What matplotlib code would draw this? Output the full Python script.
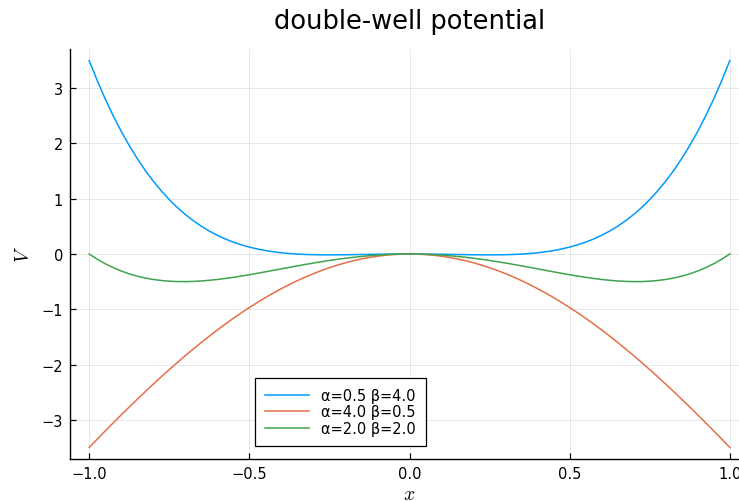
import matplotlib
matplotlib.use("Agg")
import matplotlib.pyplot as plt

x = [-1.0, -0.975, -0.95, -0.925, -0.9, -0.875, -0.85, -0.825, -0.8, -0.775,
     -0.75, -0.725, -0.7, -0.675, -0.65, -0.625, -0.6, -0.575, -0.55, -0.525,
     -0.5, -0.475, -0.45, -0.425, -0.4, -0.375, -0.35, -0.325, -0.3, -0.275,
     -0.25, -0.225, -0.2, -0.175, -0.15, -0.125, -0.1, -0.075, -0.05, -0.025,
     0.0,
     0.025, 0.05, 0.075, 0.1, 0.125, 0.15, 0.175, 0.2, 0.225, 0.25,
     0.275, 0.3, 0.325, 0.35, 0.375, 0.4, 0.425, 0.45, 0.475, 0.5,
     0.525, 0.55, 0.575, 0.6, 0.625, 0.65, 0.675, 0.7, 0.725, 0.75,
     0.775, 0.8, 0.825, 0.85, 0.875, 0.9, 0.925, 0.95, 0.975, 1.0]

v_a05_b40 = [3.5, 3.1394, 2.8068, 2.5006, 2.2194, 1.9619, 1.7268, 1.5127, 1.3184, 1.1427,
             0.9844, 0.8423, 0.7154, 0.6026, 0.5028, 0.4150, 0.3384, 0.2719, 0.2148, 0.1661,
             0.125, 0.0908, 0.0628, 0.0402, 0.0224, 0.0088, -0.0012, -0.0082, -0.0126, -0.0149,
             -0.0156, -0.0151, -0.0136, -0.0116, -0.0092, -0.0068, -0.0046, -0.0027, -0.0012, -0.0003,
             0.0,
             -0.0003, -0.0012, -0.0027, -0.0046, -0.0068, -0.0092, -0.0116, -0.0136, -0.0151, -0.0156,
             -0.0149, -0.0126, -0.0082, -0.0012, 0.0088, 0.0224, 0.0402, 0.0628, 0.0908, 0.125,
             0.1661, 0.2148, 0.2719, 0.3384, 0.4150, 0.5028, 0.6026, 0.7154, 0.8423, 0.9844,
             1.1427, 1.3184, 1.5127, 1.7268, 1.9619, 2.2194, 2.5006, 2.8068, 3.1394, 3.5]

v_a40_b05 = [-3.5, -3.3507, -3.2027, -3.0565, -2.9120, -2.7694, -2.6290, -2.4909, -2.3552, -2.2221,
             -2.0918, -1.9644, -1.8400, -1.7187, -1.6007, -1.4862, -1.3752, -1.2678, -1.1642, -1.0645,
             -0.9688, -0.8770, -0.7895, -0.7062, -0.6272, -0.5526, -0.4825, -0.4169, -0.3560, -0.2996,
             -0.2480, -0.2012, -0.1592, -0.1220, -0.0897, -0.0624, -0.0400, -0.0225, -0.0100, -0.0025,
             0.0,
             -0.0025, -0.0100, -0.0225, -0.0400, -0.0624, -0.0897, -0.1220, -0.1592, -0.2012, -0.2480,
             -0.2996, -0.3560, -0.4169, -0.4825, -0.5526, -0.6272, -0.7062, -0.7895, -0.8770, -0.9688,
             -1.0645, -1.1642, -1.2678, -1.3752, -1.4862, -1.6007, -1.7187, -1.8400, -1.9644, -2.0918,
             -2.2221, -2.3552, -2.4909, -2.6290, -2.7694, -2.9120, -3.0565, -3.2027, -3.3507, -3.5]

v_a20_b20 = [0.0, -0.0939, -0.1760, -0.2471, -0.3078, -0.3589, -0.4010, -0.4347, -0.4608, -0.4797,
             -0.4922, -0.4987, -0.4998, -0.4961, -0.4880, -0.4761, -0.4608, -0.4426, -0.4220, -0.3993,
             -0.3750, -0.3494, -0.3230, -0.2960, -0.2688, -0.2417, -0.2150, -0.1889, -0.1638, -0.1398,
             -0.1172, -0.0961, -0.0768, -0.0594, -0.0440, -0.0308, -0.0198, -0.0112, -0.0050, -0.0012,
             0.0,
             -0.0012, -0.0050, -0.0112, -0.0198, -0.0308, -0.0440, -0.0594, -0.0768, -0.0961, -0.1172,
             -0.1398, -0.1638, -0.1889, -0.2150, -0.2417, -0.2688, -0.2960, -0.3230, -0.3494, -0.3750,
             -0.3993, -0.4220, -0.4426, -0.4608, -0.4761, -0.4880, -0.4961, -0.4998, -0.4987, -0.4922,
             -0.4797, -0.4608, -0.4347, -0.4010, -0.3589, -0.3078, -0.2471, -0.1760, -0.0939, 0.0]

labels = ["α=0.5 β=4.0", "α=4.0 β=0.5", "α=2.0 β=2.0"]
colors = ["#009AFA", "#E36F47", "#3EA44E"]
xticks = [-1.0, -0.5, 0.0, 0.5, 1.0]
xticklabels = ["−1.0", "−0.5", "0.0", "0.5", "1.0"]
yticks = [-3, -2, -1, 0, 1, 2, 3]
yticklabels = ["−3", "−2", "−1", "0", "1", "2", "3"]

plt.rcParams['mathtext.fontset'] = 'cm'
W, H = 739, 502
fig = plt.figure(figsize=(W / 100, H / 100), dpi=100)
L, R, T, B = 70, 749, 50, 460
ax = fig.add_axes([L / W, (H - B) / H, (R - L) / W, (B - T) / H])

for ys, lab, c in zip([v_a05_b40, v_a40_b05, v_a20_b20], labels, colors):
    ax.plot(x, ys, color=c, lw=1.1, label=lab)

ax.set_xlim(-1.06, 1.06)
ax.set_ylim(-3.71, 3.71)
ax.set_xticks(xticks)
ax.set_xticklabels(xticklabels)
ax.set_yticks(yticks)
ax.set_yticklabels(yticklabels)
ax.grid(True, color="black", alpha=0.1, lw=0.6)
for s in ["top", "right"]:
    ax.spines[s].set_visible(False)
for s in ["left", "bottom"]:
    ax.spines[s].set_linewidth(1.0)
    ax.spines[s].set_color("black")
ax.tick_params(direction="in", length=4, width=0.9, labelsize=10.5, colors="black", pad=5)
ax.set_title("double-well potential", fontsize=18.5, pad=15)
ax.set_xlabel("$x$", fontsize=14, labelpad=2.5)
ax.set_ylabel("$V$", fontsize=14, labelpad=6)

leg = ax.legend(loc="lower left", bbox_to_anchor=(255 / W, (H - 447) / H),
                bbox_transform=fig.transFigure, borderaxespad=0, fontsize=10.5, frameon=True,
                fancybox=False, edgecolor="black", framealpha=1,
                handlelength=3.0, borderpad=0.7, labelspacing=0.1, handletextpad=0.8)
leg.get_frame().set_linewidth(0.9)

fig.savefig("out.png", dpi=100)
